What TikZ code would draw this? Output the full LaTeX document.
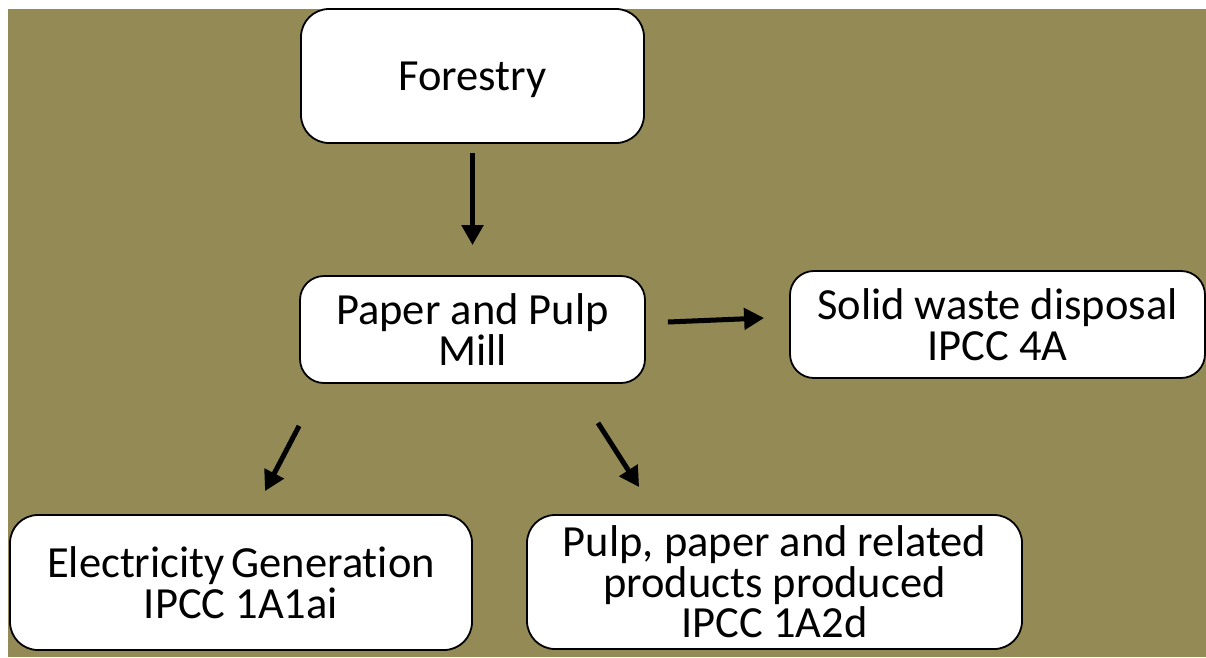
\documentclass[tikz,border=0pt]{standalone}
\usepackage{fontspec}
\setmainfont{Carlito}[Ligatures={NoCommon}]
\usetikzlibrary{arrows.meta}
\definecolor{olive}{RGB}{148,138,85}
\tikzset{
  box/.style={draw=black, line width=1.8pt, fill=white, rounded corners=28pt, align=center,
    font=\fontsize{44.5}{40.5}\selectfont, inner sep=0pt},
  arr/.style={line width=5pt, -{Triangle[length=20pt,width=21pt]}}
}
\begin{document}
\begin{tikzpicture}[x=1pt,y=-1pt]
\useasboundingbox (0,0) rectangle (1206,657);
\fill[white] (0,0) rectangle (1206,657);
\fill[olive] (8,9) rectangle (1206,657);
\node[box, minimum width=343pt, minimum height=134pt] (forestry) at (472.5,76) {\raisebox{-4pt}[\height][\depth]{Forestry}};
\node[box, minimum width=345pt, minimum height=107pt, rounded corners=24pt] (mill) at (472.5,329.5) {Paper and Pulp\\Mill};
\node[box, minimum width=415pt, minimum height=107pt, rounded corners=24pt] (solid) at (997.5,324.5) {Solid waste disposal\\IPCC 4A};
\node[box, minimum width=462pt, minimum height=135pt] (elec) at (241,582.5) {Electricity\hspace{-0.07em} Generation\\IPCC 1A1ai};
\node[box, minimum width=495pt, minimum height=134pt] (pulp) at (774.5,582) {Pulp, paper and related\\products produced\\IPCC 1A2d};
\draw[arr] ([yshift=-9pt]forestry.south) -- ([yshift=30pt]mill.north);
\draw[arr] ([xshift=22pt,yshift=7.5pt]mill.east) -- ([xshift=-25pt,yshift=6.5pt]solid.west);
\draw[arr] ([yshift=-42pt]mill.south west) -- ([xshift=24pt,yshift=23pt]elec.north);
\draw[arr] ([xshift=125.5pt,yshift=-39pt]mill.south) -- ([xshift=113pt,yshift=27pt]pulp.north west);
\end{tikzpicture}
\end{document}
